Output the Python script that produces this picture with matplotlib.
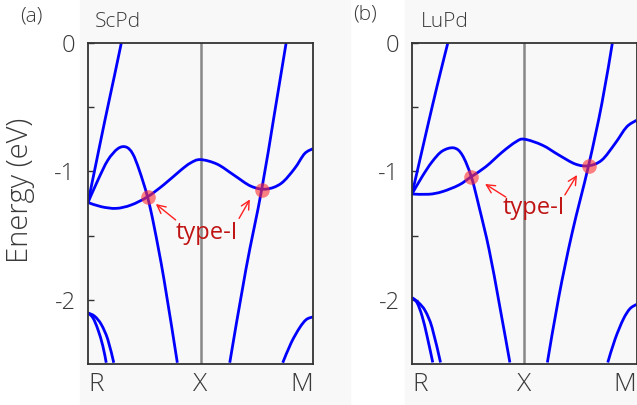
import numpy as np
import matplotlib
matplotlib.use("Agg")
import matplotlib.pyplot as plt
from matplotlib.path import Path
from matplotlib.patches import PathPatch, Rectangle

plt.rcParams['font.family'] = ['Open Sans', 'DejaVu Sans']
plt.rcParams['axes.unicode_minus'] = False

# k-path: R = 0, X = 1, M = 2 ; energies in eV
kpoints = [0, 1, 2]
klabels = ['R', 'X', 'M']
yticks_major = [0, -1, -2]
yticks_minor = [-0.5, -1.5]

# ---- ScPd ----
scpd_b1 = [(0, -1.242), (0.059, -0.991), (0.147, -0.616), (0.235, -0.255), (0.296, 0.0)]
scpd_b2 = [(0, -1.242), (0.088, -1.068), (0.176, -0.913), (0.265, -0.823), (0.338, -0.810),
           (0.397, -0.862), (0.456, -0.991), (0.529, -1.198), (0.588, -1.430),
           (0.676, -1.844), (0.794, -2.490)]
scpd_b3 = [(0, -1.242), (0.118, -1.275), (0.25, -1.288), (0.382, -1.262), (0.529, -1.198),
           (0.676, -1.102), (0.824, -0.991), (0.912, -0.934), (1.0, -0.908),
           (1.149, -0.944), (1.299, -1.030), (1.448, -1.115), (1.582, -1.138),
           (1.716, -1.094), (1.836, -0.978), (1.925, -0.862), (2.0, -0.823)]
scpd_b4 = [(1.260, -2.490), (1.403, -1.766), (1.543, -1.146), (1.657, -0.552), (1.761, 0.0)]
scpd_b5 = [(0, -2.102), (0.044, -2.141), (0.088, -2.231), (0.132, -2.360), (0.162, -2.490)]
scpd_b6 = [(0, -2.102), (0.059, -2.128), (0.118, -2.192), (0.176, -2.309), (0.229, -2.490)]
scpd_b7 = [(1.731, -2.490), (1.806, -2.335), (1.881, -2.218), (1.940, -2.154), (2.0, -2.133)]
scpd_nodes = [(0.529, -1.198), (1.543, -1.146)]

# ---- LuPd ----
lupd_b1 = [(0, -1.176), (0.090, -0.835), (0.179, -0.499), (0.254, -0.227), (0.319, 0.0)]
lupd_b2 = [(0, -1.176), (0.090, -1.041), (0.179, -0.925), (0.269, -0.842), (0.373, -0.817),
           (0.448, -0.873), (0.528, -1.041), (0.597, -1.274), (0.687, -1.610),
           (0.776, -2.023), (0.872, -2.488)]
lupd_b3 = [(0, -1.176), (0.149, -1.178), (0.269, -1.158), (0.418, -1.106), (0.528, -1.041),
           (0.657, -0.964), (0.806, -0.848), (0.925, -0.770), (1.0, -0.749),
           (1.162, -0.796), (1.309, -0.873), (1.456, -0.943), (1.574, -0.956),
           (1.691, -0.912), (1.809, -0.783), (1.912, -0.654), (2.0, -0.602)]
lupd_b4 = [(1.206, -2.488), (1.309, -1.972), (1.426, -1.481), (1.574, -0.951),
           (1.691, -0.473), (1.785, 0.0)]
lupd_b5 = [(0, -1.984), (0.045, -2.023), (0.090, -2.127), (0.134, -2.282), (0.185, -2.488)]
lupd_b6 = [(0, -1.984), (0.060, -2.023), (0.119, -2.088), (0.179, -2.217), (0.254, -2.488)]
lupd_b7 = [(1.744, -2.488), (1.809, -2.307), (1.882, -2.152), (1.941, -2.070), (2.0, -2.036)]
lupd_nodes = [(0.528, -1.041), (1.574, -0.955)]

# annotation: (text pos, [(head, tail), ...])
scpd_note = ((1.06, -1.48), [((0.603, -1.254), (0.779, -1.378)), ((1.439, -1.218), (1.343, -1.366))])
lupd_note = ((1.088, -1.287), [((0.651, -1.098), (0.836, -1.200)), ((1.470, -1.028), (1.362, -1.183))])


def smooth_band(ax, pts, **kw):
    # draw a smooth curve through the read points (Catmull-Rom -> Bezier)
    p = np.array(pts, dtype=float)
    n = len(p)
    verts = [p[0]]
    codes = [Path.MOVETO]
    for i in range(n - 1):
        p0 = p[max(i - 1, 0)]
        p1 = p[i]
        p2 = p[i + 1]
        p3 = p[min(i + 2, n - 1)]
        verts += [p1 + (p2 - p0) / 6, p2 - (p3 - p1) / 6, p2]
        codes += [Path.CURVE4] * 3
    ax.add_patch(PathPatch(Path(verts, codes), fill=False, **kw))


fig = plt.figure(figsize=(6.37, 4.05), dpi=100)
fig.patches.append(Rectangle((80 / 637, 0), 270 / 637, 1, transform=fig.transFigure,
                             color='#f8f8f8', zorder=-5))
fig.patches.append(Rectangle((405 / 637, 0), 232 / 637, 1, transform=fig.transFigure,
                             color='#f8f8f8', zorder=-5))

ax_a = fig.add_axes([88 / 637, 1 - 364 / 405, 225 / 637, 321 / 405])
ax_b = fig.add_axes([412 / 637, 1 - 364 / 405, 224.5 / 637, 321 / 405])

panels = [
    (ax_a, [scpd_b1, scpd_b2, scpd_b3, scpd_b4, scpd_b5, scpd_b6, scpd_b7], scpd_nodes, scpd_note),
    (ax_b, [lupd_b1, lupd_b2, lupd_b3, lupd_b4, lupd_b5, lupd_b6, lupd_b7], lupd_nodes, lupd_note),
]

txt_col = '#3a3a3a'
for ax, bands, nodes, note in panels:
    ax.set_facecolor('#f8f8f8')
    ax.set_xlim(0, 2)
    ax.set_ylim(-2.5, 0)
    ax.axvline(1, color='#888888', lw=1.8, zorder=1)
    for b in bands:
        smooth_band(ax, b, edgecolor='#0000ff', lw=2.0, zorder=2)
    nx = [n[0] for n in nodes]
    ny = [n[1] for n in nodes]
    ax.plot(nx, ny, 'o', ms=10.5, color='#ff3030', alpha=0.6, mec='none', zorder=3)
    (tx, ty), arrows = note
    ax.text(tx, ty, 'type-I', color='#c01414', fontsize=17, ha='center', va='center')
    for head, tail in arrows:
        ax.annotate('', xy=head, xytext=tail,
                    arrowprops=dict(arrowstyle='->', color='#ff2020', lw=1.0,
                                    mutation_scale=15, shrinkA=0, shrinkB=0))
    ax.set_xticks(kpoints)
    ax.set_xticklabels(klabels)
    ax.set_yticks(yticks_major)
    ax.set_yticks(yticks_minor, minor=True)
    ax.tick_params(axis='x', length=0, pad=6, labelsize=19, labelcolor=txt_col)
    ax.tick_params(axis='y', which='both', direction='in', length=4, width=1,
                   color='#333333', pad=9, labelsize=17, labelcolor=txt_col)
    for s in ax.spines.values():
        s.set_color('#333333')
        s.set_linewidth(1.3)
    xl = ax.get_xticklabels()
    xl[0].set_ha('left')
    xl[-1].set_ha('right')
    for lab in ax.get_xticklabels() + ax.get_yticklabels():
        lab.set_fontweight('light')

fig.text(20 / 637, 1 - 190 / 405, 'Energy (eV)', rotation=90, ha='center', va='center',
         fontsize=21, color=txt_col, fontweight='light')
fig.text(31 / 637, 1 - 17 / 405, '(a)', ha='center', va='center', fontsize=15,
         color=txt_col, fontweight='light')
fig.text(95 / 637, 1 - 22 / 405, 'ScPd', ha='left', va='center', fontsize=15,
         color=txt_col, fontweight='light')
fig.text(365 / 637, 1 - 14 / 405, '(b)', ha='center', va='center', fontsize=15,
         color=txt_col, fontweight='light')
fig.text(421 / 637, 1 - 22 / 405, 'LuPd', ha='left', va='center', fontsize=15,
         color=txt_col, fontweight='light')

fig.savefig('out.png', dpi=100)
